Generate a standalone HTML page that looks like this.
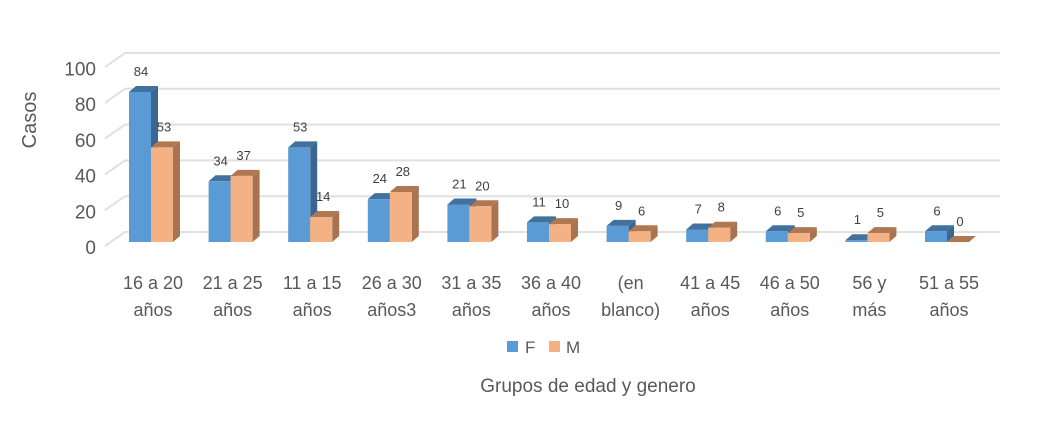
<!DOCTYPE html>
<html><head><meta charset="utf-8"><style>
body{margin:0;background:#fff;}
svg{display:block;font-family:"Liberation Sans",sans-serif;}
</style></head><body>
<svg id="chart" width="1048" height="439"></svg>
<script>
const categories=[["16 a 20","años"],["21 a 25","años"],["11 a 15","años"],["26 a 30","años3"],["31 a 35","años"],["36 a 40","años"],["(en","blanco)"],["41 a 45","años"],["46 a 50","años"],["56  y","más"],["51 a 55","años"]];
const seriesF=[84,34,53,24,21,11,9,7,6,1,6];
const seriesM=[53,37,14,28,20,10,6,8,5,5,0];
const yTicks=[0,20,40,60,80,100];
const NS="http://www.w3.org/2000/svg";
const svg=document.getElementById('chart');
function mk(t,a,p){const e=document.createElementNS(NS,t);for(const k in a)e.setAttribute(k,a[k]);(p||svg).appendChild(e);return e;}
const y0=242,k=1.786,dx=7,dy=6,bw=22;
const back0=232,bk=1.79;
function yF(v){return y0-v*k;}
function yB(v){return back0-v*bk;}
function xC(i){return 151+i*79.6;}
yTicks.forEach(t=>{
 const g=mk('polyline',{points:`105,${yB(t)+14} 125,${yB(t)} 1000,${yB(t)}`,fill:'none',stroke:'#e0e0e0','stroke-width':2});
 
 
 const l=mk('text',{x:96,y:yF(t)+12,'text-anchor':'end','font-size':19,fill:'#595959'});
 l.textContent=t;
 
 
});
function bar(x,v,front,top,side,name,lx){
 const yt=yF(v);
 const g=mk('g',{});
 
 
 mk('polygon',{points:`${x+bw},${yt} ${x+bw+dx},${yt-dy} ${x+bw+dx},${y0-dy} ${x+bw},${y0}`,fill:side},g);
 mk('polygon',{points:`${x},${yt} ${x+dx},${yt-dy} ${x+bw+dx},${yt-dy} ${x+bw},${yt}`,fill:top},g);
 if(v>0)mk('rect',{x:x,y:yt,width:bw,height:y0-yt,fill:front},g);
 const t=mk('text',{x:lx,y:yt-16,'text-anchor':'middle','font-size':13,fill:'#404040'});
 t.textContent=v;
 
 
}
categories.forEach((c,i)=>{
 const cx=xC(i);
 bar(cx-bw,seriesF[i],'#5b9bd5','#41719c','#3a6690','bar-f',cx-10);
 bar(cx,seriesM[i],'#f4b183','#b07850','#a87350','bar-m',cx+13);
 c.forEach((s,j)=>{
  const t=mk('text',{x:cx+2,y:289+j*27,'text-anchor':'middle','font-size':18,fill:'#595959'});
  t.textContent=s;
  
  
 });
});
const yt=mk('text',{x:36,y:120,'text-anchor':'middle','font-size':20,fill:'#595959',transform:'rotate(-90 36 120)'});
yt.textContent='Casos';


const lg=mk('g',{});


mk('rect',{x:507,y:341,width:11,height:11,fill:'#5b9bd5'},lg);
const lf=mk('text',{x:525,y:353,'font-size':17,fill:'#595959'},lg);lf.textContent='F';
mk('rect',{x:549,y:341,width:11,height:11,fill:'#f4b183'},lg);
const lm=mk('text',{x:566,y:353,'font-size':17,fill:'#595959'},lg);lm.textContent='M';
const xt=mk('text',{x:588,y:392,'text-anchor':'middle','font-size':19,fill:'#595959'});
xt.textContent='Grupos de edad y genero';


</script>
</body></html>
